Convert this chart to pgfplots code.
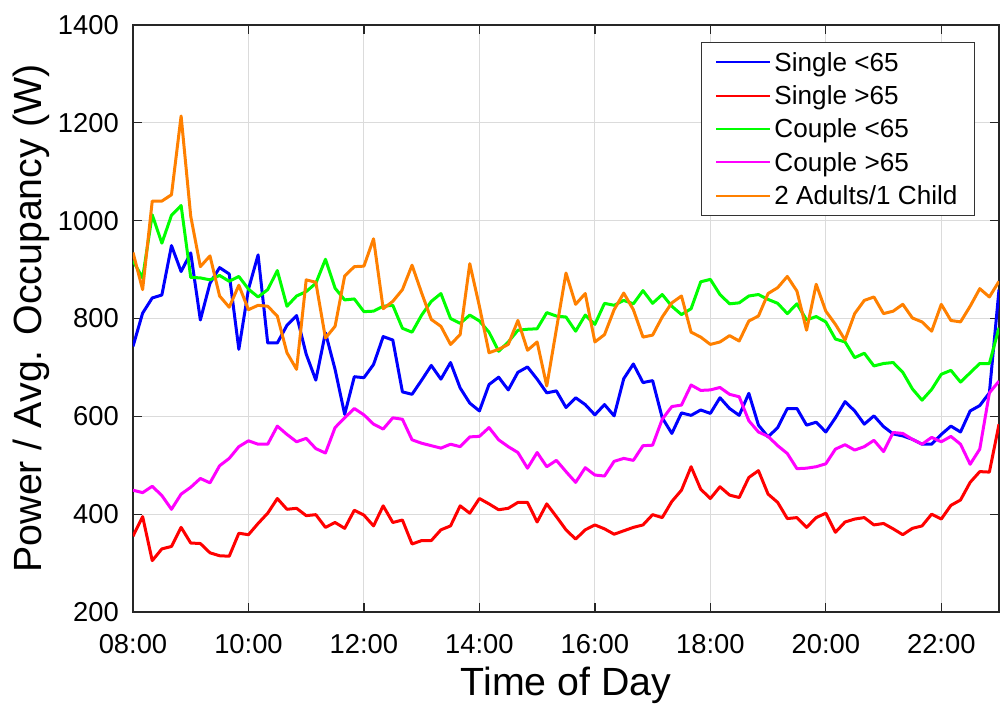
\documentclass[border=0pt]{standalone}
\usepackage{fontspec}
\setmainfont{Liberation Sans}
\usepackage{pgfplots}
\pgfplotsset{compat=1.18}
\usepackage{pgfplotstable}

\pgfplotstableread{
i B R G M O
0 743 355 918 449 935
1 811 395 883 444 859
2 842 305 1012 457 1040
3 848 329 954 438 1040
4 949 334 1011 410 1053
5 896 373 1031 441 1214
6 934 341 884 455 1009
7 797 340 883 473 906
8 872 321 879 464 928
9 904 315 888 499 846
10 891 314 876 514 823
11 737 361 886 538 868
12 860 358 860 550 818
13 930 381 844 543 827
14 750 402 859 543 825
15 750 432 898 580 805
16 786 410 825 563 730
17 806 412 846 548 696
18 727 397 855 555 879
19 674 399 872 534 874
20 771 373 921 525 760
21 696 383 862 577 784
22 604 371 838 597 887
23 681 408 840 616 906
24 679 398 814 603 907
25 706 376 815 584 963
26 763 417 825 574 820
27 756 383 827 597 835
28 650 388 780 594 859
29 645 339 772 552 909
30 674 346 807 545 852
31 704 346 835 540 798
32 676 368 851 535 784
33 710 376 800 543 747
34 658 417 790 538 767
35 627 402 807 558 912
36 611 432 795 559 825
37 665 421 772 577 730
38 680 409 733 552 737
39 654 412 752 538 747
40 690 424 776 526 796
41 701 424 778 494 735
42 676 384 779 526 752
43 648 421 812 497 662
44 652 395 805 510 778
45 618 368 803 487 893
46 638 349 774 465 829
47 624 368 807 495 851
48 603 378 788 480 752
49 624 370 831 478 767
50 601 359 827 508 818
51 677 366 837 514 852
52 707 373 830 510 818
53 669 378 857 540 762
54 673 399 831 541 766
55 597 393 849 594 803
56 565 426 825 620 832
57 607 449 808 623 846
58 602 497 820 664 772
59 613 451 875 653 762
60 606 432 880 654 747
61 638 456 849 659 752
62 616 439 830 645 765
63 602 434 832 640 754
64 647 475 846 591 795
65 582 489 849 568 805
66 558 441 839 559 851
67 577 424 831 540 863
68 616 391 810 524 886
69 616 393 830 493 856
70 582 373 797 494 776
71 588 393 804 497 870
72 568 402 793 503 815
73 597 363 758 533 788
74 630 384 752 542 756
75 611 390 720 531 810
76 584 393 729 538 837
77 601 378 703 551 844
78 579 381 708 528 810
79 564 370 710 567 815
80 560 358 690 565 829
81 553 371 656 553 801
82 543 376 633 543 793
83 543 400 655 557 774
84 563 390 686 548 829
85 580 418 694 559 796
86 568 429 670 543 793
87 611 465 689 502 825
88 622 487 708 533 861
89 648 486 708 648 844
90 859 584 781 672 876
}\data

\definecolor{cblue}{rgb}{0,0,1}
\definecolor{cred}{rgb}{1,0,0}
\definecolor{cgreen}{rgb}{0,1,0}
\definecolor{cmag}{rgb}{1,0,1}
\definecolor{corange}{rgb}{1,0.5,0}

\begin{document}
\begin{tikzpicture}
\begin{axis}[name=ax,
  scale only axis, width=649.5pt, height=440.25pt,
  xmin=0, xmax=90, ymin=200, ymax=1400,
  xtick={0,12,24,36,48,60,72,84},
  xticklabels={08:00,10:00,12:00,14:00,16:00,18:00,20:00,22:00},
  ytick={200,400,600,800,1000,1200,1400},
  yticklabels={200,400,600,800,1000,1200,1400},
  xtick pos=both, ytick pos=both,
  xticklabel pos=lower, yticklabel pos=left,
  tick align=inside, major tick length=6.75pt,
  grid=major, major grid style={draw=black!14, line width=0.75pt},
  axis line style={draw=black!85, line width=1pt},
  every tick/.style={draw=black!85, line width=1pt},
  tick label style={font=\fontsize{20.5}{24}\selectfont},
  xticklabel style={anchor=base, yshift=-30.75pt},
  yticklabel style={anchor=east, inner sep=0pt, xshift=-10.5pt},
  xlabel={Time of Day}, ylabel={Power / Avg. Occupancy (W)},
  every axis x label/.style={at={(rel axis cs:0.5,0)}, anchor=base, yshift=-62.25pt, font=\fontsize{29.5}{35}\selectfont},
  every axis y label/.style={at={([xshift=-68.25pt]rel axis cs:0,0.5)}, anchor=base, rotate=90, font=\fontsize{29.5}{35}\selectfont},
  legend style={at={(rel axis cs:1,1)}, anchor=north east, xshift=-18pt, yshift=-12.75pt,
    draw=black!80, line width=0.75pt, fill=white,
    font=\fontsize{19.6}{23}\selectfont,
    inner xsep=10.5pt, inner ysep=2.5pt, row sep=0pt, column sep=0pt,
    nodes={inner xsep=2.25pt, inner ysep=0pt, text height=19pt, text depth=6pt}},
  legend cell align=left,
  legend image code/.code={\draw[#1, line width=1.5pt] (0pt,0pt) -- (40.5pt,0pt);},
  every axis plot/.append style={line width=2.25pt, line join=round},
]
\addplot[cblue] table[x=i, y=B] {\data};
\addlegendentry{Single <65}
\addplot[cred] table[x=i, y=R] {\data};
\addlegendentry{Single >65}
\addplot[cgreen] table[x=i, y=G] {\data};
\addlegendentry{Couple <65}
\addplot[cmag] table[x=i, y=M] {\data};
\addlegendentry{Couple >65}
\addplot[corange] table[x=i, y=O] {\data};
\addlegendentry{2 Adults/1 Child}
\end{axis}
\path ([shift={(-99.75pt,-69.75pt)}]ax.south west) rectangle ([shift={(3.75pt,18.75pt)}]ax.north east);
\end{tikzpicture}
\end{document}
